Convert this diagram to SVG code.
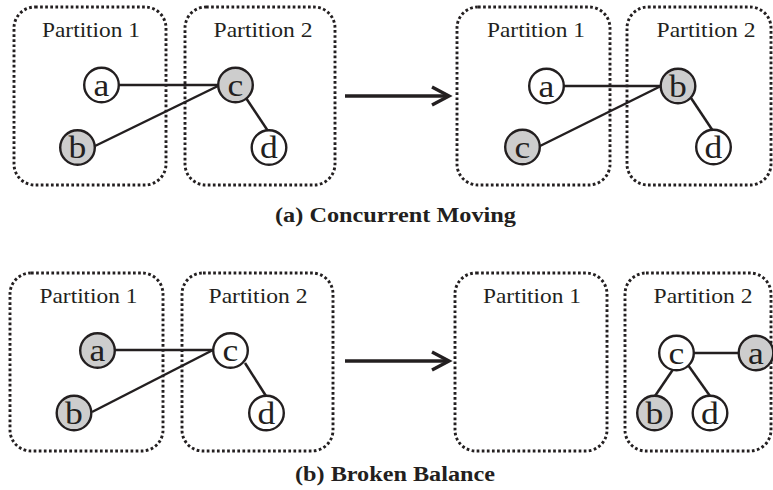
<svg xmlns="http://www.w3.org/2000/svg" width="773" height="490" viewBox="0 0 773 490">
<style>
.box{fill:none;stroke:#231f20;stroke-width:2.9;stroke-dasharray:2.7 2.4}
.lbl{font-family:"Liberation Serif","Times New Roman",Times,serif;font-size:21px;fill:#231f20;text-anchor:middle}
.cap{font-family:"Liberation Serif","Times New Roman",Times,serif;font-size:20.5px;font-weight:bold;fill:#231f20;text-anchor:middle}
.n circle{stroke:#231f20;stroke-width:2.4}
.w{fill:#fff}
.g{fill:#cdcdcd}
.n text{font-family:"Liberation Serif","Times New Roman",Times,serif;font-size:31px;fill:#231f20;text-anchor:middle}
.e line{stroke:#231f20;stroke-width:2.5}
.arr{stroke:#231f20;stroke-width:3.4;fill:none}
</style>
<defs>
<marker id="ah" markerUnits="userSpaceOnUse" markerWidth="24" markerHeight="24" refX="19" refY="12" orient="auto" overflow="visible">
<path d="M2,3 L19,12 L2,21" fill="none" stroke="#231f20" stroke-width="3.4"/>
</marker>
</defs>

<!-- (a) Concurrent Moving -->
<g id="a-left-p1"><rect class="box" x="14" y="7" width="152" height="178" rx="21"/><text class="lbl" x="91" y="37" textLength="98" lengthAdjust="spacingAndGlyphs">Partition 1</text></g>
<g id="a-left-p2"><rect class="box" x="185" y="7" width="150" height="178" rx="21"/><text class="lbl" x="263" y="37" textLength="99" lengthAdjust="spacingAndGlyphs">Partition 2</text></g>
<g id="a-right-p1"><rect class="box" x="457" y="7" width="153" height="178" rx="21"/><text class="lbl" x="536" y="37" textLength="98" lengthAdjust="spacingAndGlyphs">Partition 1</text></g>
<g id="a-right-p2"><rect class="box" x="627" y="7" width="144" height="178" rx="21"/><text class="lbl" x="706" y="37" textLength="99" lengthAdjust="spacingAndGlyphs">Partition 2</text></g>

<g id="edges" class="e">
<line x1="119" y1="85" x2="218" y2="85"/>
<line x1="95" y1="146" x2="218" y2="86"/>
<line x1="246" y1="98" x2="268" y2="131"/>
<line x1="563" y1="86" x2="661" y2="86"/>
<line x1="540" y1="146" x2="661" y2="86"/>
<line x1="691" y1="98" x2="713" y2="131"/>
<line x1="115" y1="350" x2="213" y2="350"/>
<line x1="92" y1="412" x2="213" y2="350"/>
<line x1="245" y1="363" x2="266" y2="396"/>
<line x1="694" y1="353" x2="739" y2="353"/>
<line x1="674" y1="368" x2="655" y2="396"/>
<line x1="688" y1="365" x2="710" y2="396"/>
</g>

<g id="arrows">
<line class="arr" x1="345" y1="96" x2="449" y2="96" marker-end="url(#ah)"/>
<line class="arr" x1="345" y1="361" x2="449" y2="361" marker-end="url(#ah)"/>
</g>

<g id="a-l-a" class="n"><circle class="w" cx="101.5" cy="85" r="17.3"/><text x="101.5" y="95.5" textLength="15.8" lengthAdjust="spacingAndGlyphs">a</text></g>
<g id="a-l-b" class="n"><circle class="g" cx="77.5" cy="147.5" r="17.3"/><text x="77.5" y="158" textLength="17.8" lengthAdjust="spacingAndGlyphs">b</text></g>
<g id="a-l-c" class="n"><circle class="g" cx="235.5" cy="85" r="17.3"/><text x="235.5" y="95.5" textLength="15.8" lengthAdjust="spacingAndGlyphs">c</text></g>
<g id="a-l-d" class="n"><circle class="w" cx="269" cy="147.5" r="17.3"/><text x="269" y="158" textLength="17.8" lengthAdjust="spacingAndGlyphs">d</text></g>

<g id="a-r-a" class="n"><circle class="w" cx="546.5" cy="86" r="17.3"/><text x="546.5" y="96.5" textLength="15.8" lengthAdjust="spacingAndGlyphs">a</text></g>
<g id="a-r-b" class="n"><circle class="g" cx="678" cy="86" r="17.3"/><text x="678" y="96.5" textLength="17.8" lengthAdjust="spacingAndGlyphs">b</text></g>
<g id="a-r-c" class="n"><circle class="g" cx="522.5" cy="147" r="17.3"/><text x="522.5" y="157.5" textLength="15.8" lengthAdjust="spacingAndGlyphs">c</text></g>
<g id="a-r-d" class="n"><circle class="w" cx="713.5" cy="147" r="17.3"/><text x="713.5" y="157.5" textLength="17.8" lengthAdjust="spacingAndGlyphs">d</text></g>

<text id="cap-a" class="cap" x="395.5" y="222" textLength="241" lengthAdjust="spacingAndGlyphs">(a) Concurrent Moving</text>

<!-- (b) Broken Balance -->
<g id="b-left-p1"><rect class="box" x="10" y="273" width="153" height="178" rx="21"/><text class="lbl" x="88.5" y="303" textLength="98" lengthAdjust="spacingAndGlyphs">Partition 1</text></g>
<g id="b-left-p2"><rect class="box" x="182" y="273" width="151" height="178" rx="21"/><text class="lbl" x="258" y="303" textLength="99" lengthAdjust="spacingAndGlyphs">Partition 2</text></g>
<g id="b-right-p1"><rect class="box" x="455" y="273" width="152" height="178" rx="21"/><text class="lbl" x="532" y="303" textLength="98" lengthAdjust="spacingAndGlyphs">Partition 1</text></g>
<g id="b-right-p2"><rect class="box" x="625" y="273" width="146" height="178" rx="21"/><text class="lbl" x="703" y="303" textLength="99" lengthAdjust="spacingAndGlyphs">Partition 2</text></g>

<g id="b-l-a" class="n"><circle class="g" cx="97.5" cy="350.5" r="17.3"/><text x="97.5" y="361" textLength="15.8" lengthAdjust="spacingAndGlyphs">a</text></g>
<g id="b-l-b" class="n"><circle class="g" cx="74" cy="413" r="17.3"/><text x="74" y="423.5" textLength="17.8" lengthAdjust="spacingAndGlyphs">b</text></g>
<g id="b-l-c" class="n"><circle class="w" cx="230.5" cy="350.5" r="17.3"/><text x="230.5" y="361" textLength="15.8" lengthAdjust="spacingAndGlyphs">c</text></g>
<g id="b-l-d" class="n"><circle class="w" cx="266.5" cy="413" r="17.3"/><text x="266.5" y="423.5" textLength="17.8" lengthAdjust="spacingAndGlyphs">d</text></g>

<g id="b-r-c" class="n"><circle class="w" cx="676.5" cy="353" r="17.3"/><text x="676.5" y="363.5" textLength="15.8" lengthAdjust="spacingAndGlyphs">c</text></g>
<g id="b-r-a" class="n"><circle class="g" cx="756" cy="353" r="17.3"/><text x="756" y="363.5" textLength="15.8" lengthAdjust="spacingAndGlyphs">a</text></g>
<g id="b-r-b" class="n"><circle class="g" cx="654.5" cy="413" r="17.3"/><text x="654.5" y="423.5" textLength="17.8" lengthAdjust="spacingAndGlyphs">b</text></g>
<g id="b-r-d" class="n"><circle class="w" cx="710" cy="413" r="17.3"/><text x="710" y="423.5" textLength="17.8" lengthAdjust="spacingAndGlyphs">d</text></g>

<text id="cap-b" class="cap" x="395" y="481" textLength="200" lengthAdjust="spacingAndGlyphs">(b) Broken Balance</text>
</svg>
